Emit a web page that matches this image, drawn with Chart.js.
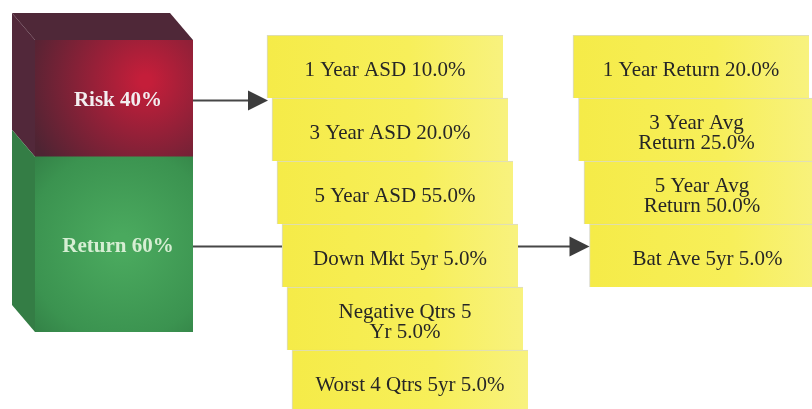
<!DOCTYPE html>
<html>
<head>
<meta charset="utf-8">
<script src="https://cdn.jsdelivr.net/npm/chart.js@4.4.1/dist/chart.umd.min.js"></script>
<style>
  html, body { margin: 0; padding: 0; background: #fff; }
  #wrap { position: relative; width: 812px; height: 409px; overflow: hidden; }
  canvas { position: absolute; left: 0; top: 0; }
</style>
</head>
<body>
<div id="wrap">
  <canvas id="boxChart" width="812" height="413"></canvas>
  <canvas id="mixChart" width="812" height="409"></canvas>
</div>
<script>
// split of the score between risk and return
var mixLabels = ["Risk", "Return"];
var mixValues = [40, 60];

// risk measures (middle column)
var riskNames = ["1 Year ASD", "3 Year ASD", "5 Year ASD", "Down Mkt 5yr", "Negative Qtrs 5\nYr", "Worst 4 Qtrs 5yr"];
var riskValues = [10, 20, 55, 5, 5, 5];

// return measures (right column)
var returnNames = ["1 Year Return", "3 Year Avg\nReturn", "5 Year Avg\nReturn", "Bat Ave 5yr"];
var returnValues = [20, 25, 50, 5];

// layout only: where the yellow boxes sit on the hidden x axis
var colLeft = [267, 573];
var colStep = [5, 5.5];
var boxWidth = 236;
var depthX = -23, depthY = -27;   // bevel of the 3D block

var serif = "'Liberation Serif', 'Times New Roman', serif";

function boxSpan(col, i) {
    let start = colLeft[col] + colStep[col] * i;
    return [start, start + boxWidth];
}

function pct(v) {
    return v.toFixed(1) + "%";
}

// yellow fill, a bit paler towards the right end of each box
function yellowFill(context) {
    const chart = context.chart;
    const x = chart.scales.x;
    if (!x || !context.raw) return "#f6ed52";
    let x0 = x.getPixelForValue(context.raw[0]);
    let x1 = x.getPixelForValue(context.raw[1]);
    if (!isFinite(x0) || !isFinite(x1)) return "#f6ed52";
    let g = chart.ctx.createLinearGradient(x0, 0, x1, 0);
    g.addColorStop(0, "#f5eb48");
    g.addColorStop(0.6, "#f7ef5a");
    g.addColorStop(1, "#f8f27e");
    return g;
}

// ---------- yellow boxes ----------
const boxText = {
    id: "boxText",
    afterDatasetsDraw(chart) {
        const ctx = chart.ctx;
        const names = [riskNames, returnNames];
        const values = [riskValues, returnValues];
        ctx.save();
        ctx.font = "21px " + serif;
        ctx.fillStyle = "#262626";
        ctx.textAlign = "center";
        ctx.textBaseline = "middle";
        [0, 1].forEach(function(d) {
            chart.getDatasetMeta(d).data.forEach(function(el, i) {
                if (i >= names[d].length) return;
                let lines = (names[d][i] + " " + pct(values[d][i])).split("\n");
                let cx = (el.x + el.base) / 2;
                let cy = el.y + 3.5 - (lines.length - 1) * 10;
                lines.forEach(function(line, k) {
                    ctx.fillText(line, cx, cy + k * 20);
                });
            });
        });
        ctx.restore();
    }
};

let rows = riskNames.map(function(n, i) { return "row " + (i + 1); });

const boxChart = new Chart(document.getElementById("boxChart"), {
    type: "bar",
    data: {
        labels: rows,
        datasets: [
            {
                label: "Risk measures",
                data: riskNames.map(function(n, i) { return boxSpan(0, i); }),
                backgroundColor: yellowFill,
                borderColor: "rgba(170,170,140,0.45)",
                borderWidth: { top: 1, left: 1, right: 0, bottom: 0 },
                borderSkipped: false,
                grouped: false,
                barPercentage: 1,
                categoryPercentage: 1
            },
            {
                label: "Return measures",
                data: rows.map(function(r, i) { return i < returnNames.length ? boxSpan(1, i) : null; }),
                backgroundColor: yellowFill,
                borderColor: "rgba(170,170,140,0.45)",
                borderWidth: { top: 1, left: 1, right: 0, bottom: 0 },
                borderSkipped: false,
                grouped: false,
                barPercentage: 1,
                categoryPercentage: 1
            }
        ]
    },
    options: {
        indexAxis: "y",
        responsive: false,
        animation: false,
        layout: { padding: { top: 35, bottom: 0, left: 0, right: 0 } },
        scales: {
            x: { type: "linear", min: 0, max: 812, display: false },
            y: { display: false }
        },
        plugins: { legend: { display: false }, tooltip: { enabled: false } }
    },
    plugins: [boxText]
});

// ---------- 3D risk / return block + arrows ----------
function frontFill(which) {
    return function(context) {
        const chart = context.chart;
        const y = chart.scales.y, x = chart.scales.x;
        const fallback = which == 0 ? "#3d9a52" : "#a02237";
        if (!y || !x || !chart.chartArea) return fallback;
        const ctx = chart.ctx;
        const a = chart.chartArea;
        const w = a.right - a.left;
        if (which == 0) {
            let top = y.getPixelForValue(mixValues[1]), bottom = y.getPixelForValue(0);
            if (!isFinite(top) || !isFinite(bottom) || !isFinite(w)) return fallback;
            let g = ctx.createRadialGradient(a.left + w * 0.55, (top + bottom) / 2, 10, a.left + w * 0.55, (top + bottom) / 2, w * 0.95);
            g.addColorStop(0, "#4aa95e");
            g.addColorStop(0.6, "#3b9350");
            g.addColorStop(1, "#2c723e");
            return g;
        }
        let top = y.getPixelForValue(100), bottom = y.getPixelForValue(mixValues[1]);
        if (!isFinite(top) || !isFinite(bottom) || !isFinite(w)) return fallback;
        let g = ctx.createRadialGradient(a.left + w * 0.7, top + (bottom - top) * 0.35, 6, a.left + w * 0.7, top + (bottom - top) * 0.35, w * 0.8);
        g.addColorStop(0, "#c41e3a");
        g.addColorStop(0.4, "#952038");
        g.addColorStop(1, "#4e2433");
        return g;
    };
}

function poly(ctx, pts, color) {
    ctx.beginPath();
    ctx.moveTo(pts[0][0], pts[0][1]);
    for (let i = 1; i < pts.length; i++) ctx.lineTo(pts[i][0], pts[i][1]);
    ctx.closePath();
    ctx.fillStyle = color;
    ctx.fill();
}

function arrow(ctx, x1, x2, y, head) {
    ctx.beginPath();
    ctx.moveTo(x1, y);
    ctx.lineTo(head ? x2 - 18 : x2, y);
    ctx.lineWidth = 2;
    ctx.strokeStyle = "#474747";
    ctx.stroke();
    if (head) {
        ctx.beginPath();
        ctx.moveTo(x2, y);
        ctx.lineTo(x2 - 20, y - 10);
        ctx.lineTo(x2 - 20, y + 10);
        ctx.closePath();
        ctx.fillStyle = "#3c3c3c";
        ctx.fill();
    }
}

const blockBevel = {
    id: "blockBevel",
    beforeDatasetsDraw(chart) {
        const ret = chart.getDatasetMeta(0).data[0];
        const risk = chart.getDatasetMeta(1).data[0];
        const L = risk.x - risk.width / 2, R = risk.x + risk.width / 2;
        const T = risk.y, M = risk.base, B = ret.base;
        const ctx = chart.ctx;
        ctx.save();
        poly(ctx, [[L + depthX, T + depthY], [R + depthX, T + depthY], [R, T], [L, T]], "#4f2838");
        poly(ctx, [[L + depthX, T + depthY], [L, T], [L, M], [L + depthX, M + depthY]], "#52283a");
        poly(ctx, [[L + depthX, M + depthY], [L, M], [L, B], [L + depthX, B + depthY]], "#347d45");
        ctx.restore();
    },
    afterDraw(chart) {
        const ret = chart.getDatasetMeta(0).data[0];
        const risk = chart.getDatasetMeta(1).data[0];
        const R = risk.x + risk.width / 2;
        const ctx = chart.ctx;
        let yRisk = (risk.y + risk.base) / 2 + 2;
        let yRet = (ret.y + ret.base) / 2 + 2;

        ctx.save();
        ctx.textAlign = "center";
        ctx.textBaseline = "middle";
        ctx.font = "bold 21px " + serif;
        ctx.fillStyle = "#f3eef0";
        ctx.fillText(mixLabels[0] + " " + mixValues[0] + "%", risk.x + 4, yRisk);
        ctx.fillStyle = "#d6eed3";
        ctx.fillText(mixLabels[1] + " " + mixValues[1] + "%", ret.x + 4, yRet);

        const col1 = boxChart.getDatasetMeta(0).data;
        const col2 = boxChart.getDatasetMeta(1).data;
        arrow(ctx, R, col1[0].base + 1, yRisk, true);
        arrow(ctx, R, col1[3].base, yRet, false);
        arrow(ctx, col1[3].x, col2[3].base, yRet, true);
        ctx.restore();
    }
};

new Chart(document.getElementById("mixChart"), {
    type: "bar",
    data: {
        labels: ["Score"],
        datasets: [
            {
                label: mixLabels[1],
                data: [mixValues[1]],
                backgroundColor: frontFill(0),
                borderWidth: 0,
                barPercentage: 1,
                categoryPercentage: 1
            },
            {
                label: mixLabels[0],
                data: [mixValues[0]],
                backgroundColor: frontFill(1),
                borderWidth: 0,
                barPercentage: 1,
                categoryPercentage: 1
            }
        ]
    },
    options: {
        responsive: false,
        animation: false,
        layout: { padding: { top: 40, bottom: 77, left: 35, right: 619 } },
        scales: {
            x: { stacked: true, display: false },
            y: { stacked: true, min: 0, max: 100, display: false }
        },
        plugins: { legend: { display: false }, tooltip: { enabled: false } }
    },
    plugins: [blockBevel]
});
</script>
</body>
</html>
